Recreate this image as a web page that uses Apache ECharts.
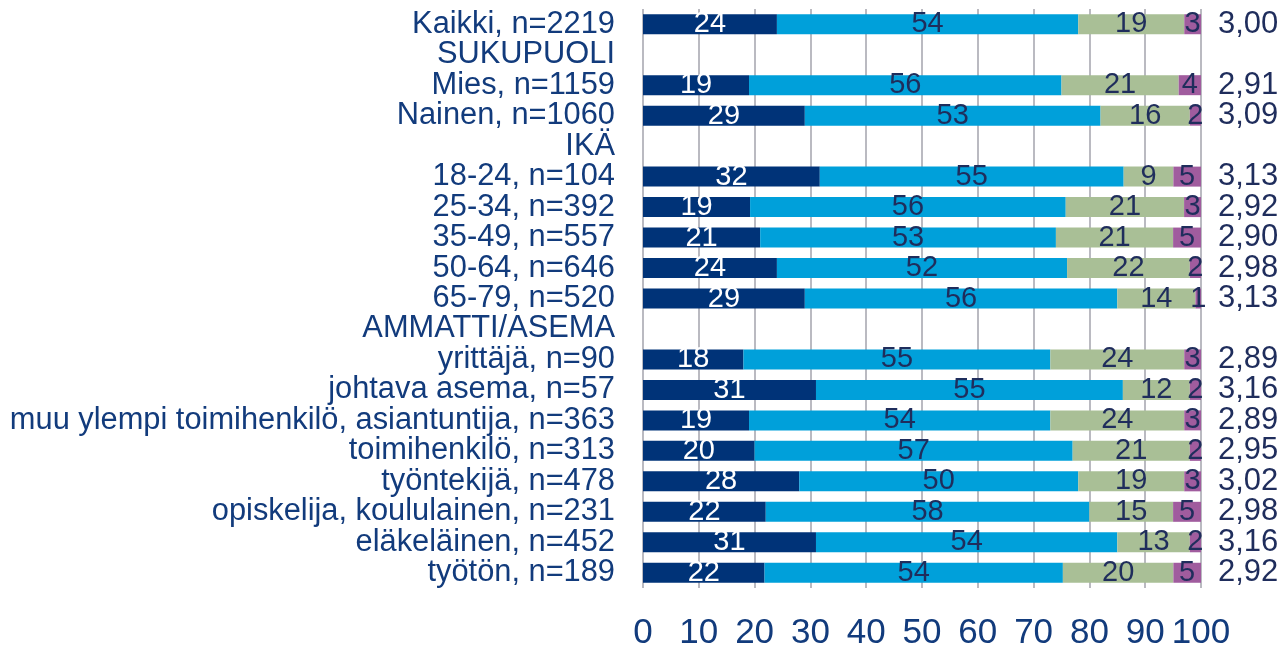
<!DOCTYPE html>
<html>
<head>
<meta charset="utf-8">
<script src="https://cdn.jsdelivr.net/npm/echarts@6/dist/echarts.min.js"></script>
<style>
  html, body { margin: 0; padding: 0; background: #fff; }
  #chart { width: 1286px; height: 646px; }
</style>
</head>
<body>
<div id="chart"></div>
<script>
const categories = [
  "Kaikki, n=2219", "SUKUPUOLI", "Mies, n=1159", "Nainen, n=1060", "IKÄ",
  "18-24, n=104", "25-34, n=392", "35-49, n=557", "50-64, n=646", "65-79, n=520",
  "AMMATTI/ASEMA", "yrittäjä, n=90", "johtava asema, n=57",
  "muu ylempi toimihenkilö, asiantuntija, n=363", "toimihenkilö, n=313",
  "työntekijä, n=478", "opiskelija, koululainen, n=231", "eläkeläinen, n=452",
  "työtön, n=189"
];
// header rows have no bars
const s1 = [24, null, 19, 29, null, 32, 19, 21, 24, 29, null, 18, 31, 19, 20, 28, 22, 31, 22];
const s2 = [54, null, 56, 53, null, 55, 56, 53, 52, 56, null, 55, 55, 54, 57, 50, 58, 54, 54];
const s3 = [19, null, 21, 16, null, 9, 21, 21, 22, 14, null, 24, 12, 24, 21, 19, 15, 13, 20];
const s4 = [3, null, 4, 2, null, 5, 3, 5, 2, 1, null, 3, 2, 3, 2, 3, 5, 2, 5];
const averages = ["3,00", "", "2,91", "3,09", "", "3,13", "2,92", "2,90", "2,98", "3,13",
  "", "2,89", "3,16", "2,89", "2,95", "3,02", "2,98", "3,16", "2,92"];
const xTicks = [0, 10, 20, 30, 40, 50, 60, 70, 80, 90, 100];

const font = "'Liberation Sans', Arial, sans-serif";
const navyText = "#1F2D5C";

// rounded shares don't always sum to 100, the bars are drawn as 100 % stacks
const rowSum = categories.map((c, i) => (s1[i] || 0) + (s2[i] || 0) + (s3[i] || 0) + (s4[i] || 0));

const chart = echarts.init(document.getElementById("chart"));

const makeSeries = (name, data, color, labelColor) => ({
  name: name,
  type: "bar",
  stack: "total",
  data: data.map((v, i) => (v == null ? null : (v / rowSum[i]) * 100)),
  barWidth: 20,
  itemStyle: { color: color },
  label: {
    show: true,
    position: "inside",
    color: labelColor,
    fontFamily: font,
    fontSize: 29,
    formatter: (p) => (data[p.dataIndex] == null ? "" : String(data[p.dataIndex]))
  },
  emphasis: { disabled: true }
});

chart.setOption({
  animation: false,
  grid: { left: 643, right: 85, top: 9, bottom: 58, outerBoundsMode: "none" },
  xAxis: {
    type: "value",
    min: 0,
    max: 100,
    interval: 10,
    axisLine: { show: false },
    axisTick: { show: false },
    splitLine: { show: true, lineStyle: { color: "#A3A3AD", width: 1.5 } },
    axisLabel: {
      color: "#123B7C",
      fontFamily: font,
      fontSize: 35,
      margin: 28,
      formatter: (v) => (xTicks.includes(v) ? String(v) : "")
    }
  },
  yAxis: [
    {
      type: "category",
      data: categories,
      inverse: true,
      axisLine: { show: false },
      axisTick: { show: false },
      splitLine: { show: false },
      axisLabel: {
        color: "#123B7C",
        fontFamily: font,
        fontSize: 30.8,
        margin: 28,
        interval: 0
      }
    },
    {
      type: "category",
      data: averages,
      inverse: true,
      position: "right",
      axisLine: { show: false },
      axisTick: { show: false },
      splitLine: { show: false },
      axisLabel: {
        color: navyText,
        fontFamily: font,
        fontSize: 31,
        margin: 17,
        interval: 0
      }
    }
  ],
  series: [
    makeSeries("1", s1, "#003378", "#ffffff"),
    makeSeries("2", s2, "#00A0DA", navyText),
    makeSeries("3", s3, "#A9BF96", navyText),
    makeSeries("4", s4, "#A05C9E", navyText)
  ]
});
</script>
</body>
</html>
